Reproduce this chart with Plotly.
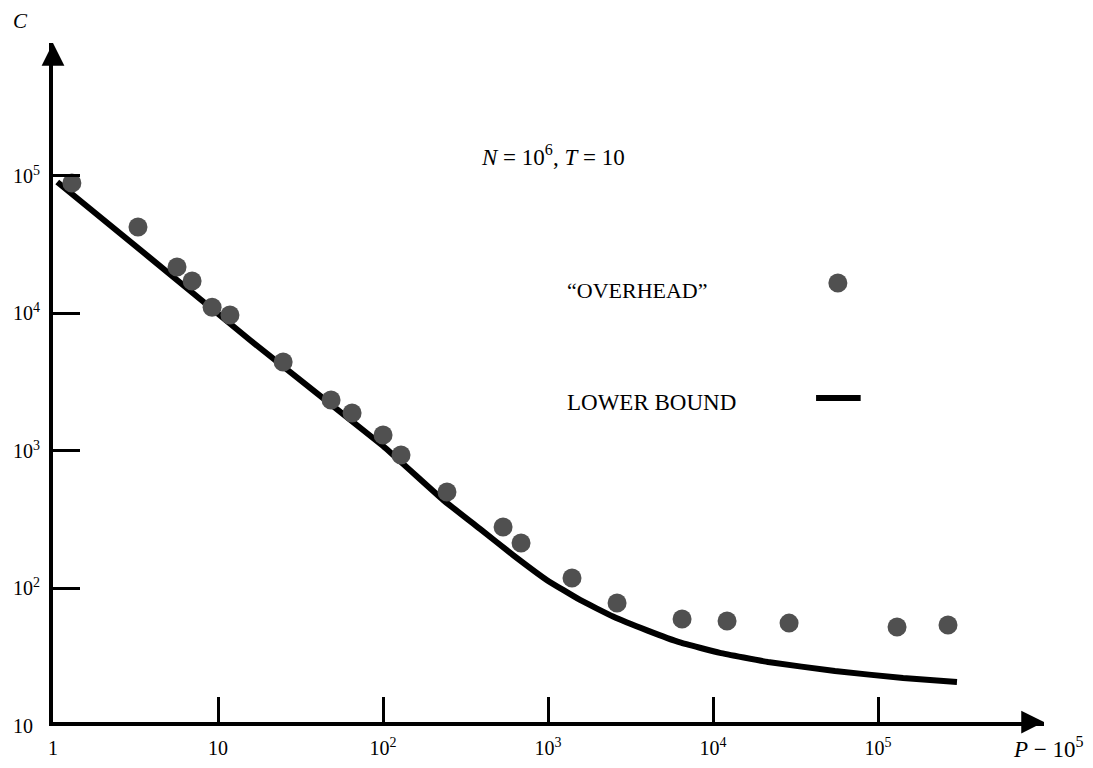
import plotly.graph_objects as go

# ---- data ----
overhead_P = [1.30, 3.27, 5.64, 6.96, 9.2, 11.8, 24.8, 48.4, 64.9, 100, 128.5,
              244, 534, 686, 1397, 2620, 6490, 12160, 28900, 130400, 265600]
overhead_C = [89000, 42600, 21800, 17200, 11100, 9750, 4440, 2350, 1890, 1306, 935,
              503, 280, 214, 119, 78.5, 60, 58, 56, 52.5, 54.3]

lower_P = [1.06, 3.87, 15.6, 100, 231, 387, 614, 986, 1563, 2477, 3981, 6310,
           11020, 21540, 54800, 141900, 301000]
lower_C = [90400, 25400, 6410, 1087, 441, 271, 175, 115, 82.5, 62.5, 49.6, 40.5,
           34, 29.2, 25.1, 22.3, 20.9]

x_tickvals = [1, 10, 100, 1000, 10000, 100000]
x_ticktext = ["1", "10", "10<sup>2</sup>", "10<sup>3</sup>", "10<sup>4</sup>", "10<sup>5</sup>"]
y_tickvals = [100, 1000, 10000, 100000]
y_ticktext = ["10<sup>2</sup>", "10<sup>3</sup>", "10<sup>4</sup>", "10<sup>5</sup>"]

FONT = "Liberation Serif"
TICK_SIZE = 20

fig = go.Figure()
fig.add_trace(go.Scatter(x=lower_P, y=lower_C, mode="lines",
                         line=dict(color="black", width=6, shape="spline", smoothing=0.3),
                         name="LOWER BOUND", showlegend=False))
fig.add_trace(go.Scatter(x=overhead_P, y=overhead_C, mode="markers",
                         marker=dict(color="#505050", size=19, line=dict(width=0)),
                         name="OVERHEAD", showlegend=False))

fig.update_layout(
    width=1085, height=760,
    margin=dict(l=45, r=49, t=35, b=46, autoexpand=False),
    paper_bgcolor="white", plot_bgcolor="white",
    font=dict(family=FONT, size=TICK_SIZE, color="black"),
    xaxis=dict(type="log", range=[-0.0005, 6.006], showgrid=False, zeroline=False,
               automargin=False,
               showline=True, linewidth=4, linecolor="black",
               ticks="inside", ticklen=25, tickwidth=2.5, tickcolor="black",
               tickvals=x_tickvals, ticktext=x_ticktext, ticklabelstandoff=5,
               tickfont=dict(family=FONT, size=TICK_SIZE)),
    yaxis=dict(type="log", range=[1.029, 5.967], showgrid=False, zeroline=False,
               automargin=False,
               showline=True, linewidth=4, linecolor="black",
               ticks="inside", ticklen=27, tickwidth=2.5, tickcolor="black",
               tickvals=y_tickvals, ticktext=y_ticktext, ticklabelstandoff=5,
               tickfont=dict(family=FONT, size=TICK_SIZE)),
)

ann = []
# arrowheads on the axes
ann.append(dict(x=0, y=1, xref="paper", yref="paper", ax=0, ay=22, text="",
                showarrow=True, arrowhead=2, arrowsize=1.3, arrowwidth=3.5, arrowcolor="black"))
ann.append(dict(x=1, y=0, xref="paper", yref="paper", ax=-22, ay=0, text="",
                showarrow=True, arrowhead=2, arrowsize=1.3, arrowwidth=3.5, arrowcolor="black"))
# bottom y label "10"
ann.append(dict(x=-0.018, y=-0.006, xref="paper", yref="paper", text="10", showarrow=False,
                xanchor="right", yanchor="middle", font=dict(family=FONT, size=TICK_SIZE)))
# axis titles
ann.append(dict(x=-0.033, y=1.032, xref="paper", yref="paper", text="<i>C</i>", showarrow=False,
                xanchor="center", yanchor="middle", font=dict(family=FONT, size=21)))
ann.append(dict(x=1.005, y=-0.038, xref="paper", yref="paper", text="<i>P</i> \u2212 10<sup>5</sup>",
                showarrow=False, xanchor="center", yanchor="middle", font=dict(family=FONT, size=23)))
# parameters
ann.append(dict(x=0.5045, y=0.835, xref="paper", yref="paper",
                text="<i>N</i> = 10<sup>6</sup>, <i>T</i> = 10", showarrow=False,
                xanchor="center", yanchor="middle", font=dict(family=FONT, size=23)))
# legend texts
ann.append(dict(x=0.5166, y=0.636, xref="paper", yref="paper", text="\u201cOVERHEAD\u201d",
                showarrow=False, xanchor="left", yanchor="middle", font=dict(family=FONT, size=22)))
ann.append(dict(x=0.5166, y=0.470, xref="paper", yref="paper", text="LOWER BOUND",
                showarrow=False, xanchor="left", yanchor="middle", font=dict(family=FONT, size=23)))
fig.update_layout(annotations=ann)

# legend samples
fig.add_shape(type="circle", xref="paper", yref="paper", xsizemode="pixel", ysizemode="pixel",
              xanchor=0.792, yanchor=0.6465, x0=-9.5, x1=9.5, y0=-9.5, y1=9.5,
              fillcolor="#505050", line=dict(width=0))
fig.add_shape(type="line", xref="paper", yref="paper", x0=0.770, x1=0.815, y0=0.477, y1=0.477,
              line=dict(color="black", width=6))

fig.write_html("out.html")
